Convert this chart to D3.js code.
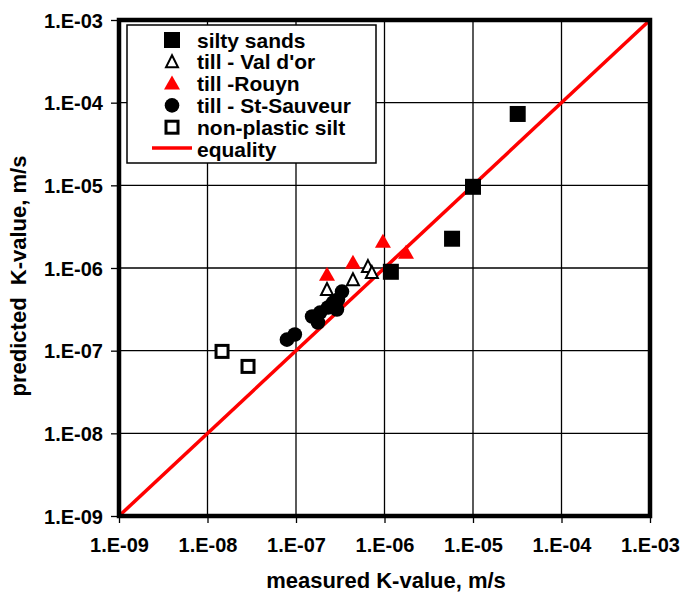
<!DOCTYPE html>
<html>
<head>
<meta charset="utf-8">
<script src="https://cdn.jsdelivr.net/npm/d3@7/dist/d3.min.js"></script>
<style>
  html, body { margin: 0; padding: 0; background: #fff; }
  svg { display: block; }
  text { font-family: "Liberation Sans", Arial, sans-serif; font-weight: bold; fill: #000; }
</style>
</head>
<body>
<svg id="chart" width="683" height="592"></svg>
<script>
// Hydraulic conductivity: measured vs predicted (m/s)
const tickValues = [1e-9, 1e-8, 1e-7, 1e-6, 1e-5, 1e-4, 1e-3];
const tickLabels = ["1.E-09", "1.E-08", "1.E-07", "1.E-06", "1.E-05", "1.E-04", "1.E-03"];

const siltySands = [
  [3.2e-5, 7.3e-5],
  [1.0e-5, 9.6e-6],
  [5.8e-6, 2.26e-6],
  [1.18e-6, 9.0e-7]
];
const tillValDor = [
  [2.24e-7, 5.5e-7],
  [4.4e-7, 7.2e-7],
  [6.5e-7, 1.04e-6],
  [7.2e-7, 8.8e-7]
];
const tillRouyn = [
  [2.24e-7, 8.3e-7],
  [4.4e-7, 1.16e-6],
  [9.6e-7, 2.08e-6],
  [1.75e-6, 1.53e-6]
];
const tillStSauveur = [
  [7.9e-8, 1.36e-7],
  [9.7e-8, 1.57e-7],
  [1.52e-7, 2.59e-7],
  [1.77e-7, 2.19e-7],
  [1.87e-7, 2.89e-7],
  [2.3e-7, 3.33e-7],
  [2.62e-7, 3.82e-7],
  [2.9e-7, 3.15e-7],
  [2.98e-7, 4.15e-7],
  [3.31e-7, 5.19e-7]
];
const nonPlasticSilt = [
  [1.46e-8, 9.8e-8],
  [2.87e-8, 6.45e-8]
];
const equality = [[1e-9, 1e-9], [1e-3, 1e-3]];

const legendItems = [
  { label: "silty sands", kind: "squareFilled" },
  { label: "till - Val d'or", kind: "triangleOpen" },
  { label: "till -Rouyn", kind: "triangleRed" },
  { label: "till - St-Sauveur", kind: "circle" },
  { label: "non-plastic silt", kind: "squareOpen" },
  { label: "equality", kind: "line" }
];

const svg = d3.select("#chart");
const plotL = 119, plotR = 650, plotT = 20, plotB = 516;

const x = d3.scaleLog().domain([1e-9, 1e-3]).range([plotL, plotR]);
const y = d3.scaleLog().domain([1e-9, 1e-3]).range([plotB, plotT]);

// gridlines
const grid = svg.append("g").attr("stroke", "#000").attr("stroke-width", 1.3);
grid.selectAll("line.gx").data(tickValues.slice(1, -1)).join("line").attr("class", "gx")
  .attr("x1", d => x(d)).attr("x2", d => x(d)).attr("y1", plotT).attr("y2", plotB);
grid.selectAll("line.gy").data(tickValues.slice(1, -1)).join("line").attr("class", "gy")
  .attr("y1", d => y(d)).attr("y2", d => y(d)).attr("x1", plotL).attr("x2", plotR);

// axes
const xAxis = d3.axisBottom(x).tickValues(tickValues)
  .tickFormat((d, i) => tickLabels[i]).tickSize(7).tickPadding(15);
const yAxis = d3.axisLeft(y).tickValues(tickValues)
  .tickFormat((d, i) => tickLabels[i]).tickSize(8).tickPadding(8);

const gx = svg.append("g").attr("transform", `translate(0,${plotB})`).call(xAxis);
const gy = svg.append("g").attr("transform", `translate(${plotL},0)`).call(yAxis);
[gx, gy].forEach(g => {
  g.select(".domain").remove();
  g.selectAll(".tick line").attr("stroke", "#000").attr("stroke-width", 1.3);
  g.selectAll(".tick text").style("font-size", "20px")
    .style("font-family", "'Liberation Sans', Arial, sans-serif").style("font-weight", "bold");
});
gy.selectAll(".tick text").attr("dy", "0.36em");

// equality line
svg.append("path")
  .datum(equality)
  .attr("d", d3.line().x(d => x(d[0])).y(d => y(d[1])))
  .attr("stroke", "#ff0000").attr("stroke-width", 3.5).attr("fill", "none");

// frame
svg.append("rect")
  .attr("x", plotL).attr("y", plotT).attr("width", plotR - plotL).attr("height", plotB - plotT)
  .attr("fill", "none").attr("stroke", "#000").attr("stroke-width", 4.5);

// marker drawing helpers
function drawMarker(g, kind, cx, cy) {
  if (kind === "squareFilled") {
    g.append("rect").attr("x", cx - 8).attr("y", cy - 8).attr("width", 16).attr("height", 16)
      .attr("fill", "#000");
  } else if (kind === "squareOpen") {
    g.append("rect").attr("x", cx - 6).attr("y", cy - 6).attr("width", 12).attr("height", 12)
      .attr("fill", "#fff").attr("stroke", "#000").attr("stroke-width", 3);
  } else if (kind === "triangleOpen") {
    g.append("path").attr("d", `M${cx},${cy - 6.5}L${cx + 6},${cy + 5.5}L${cx - 6},${cy + 5.5}Z`)
      .attr("fill", "#fff").attr("stroke", "#000").attr("stroke-width", 2);
  } else if (kind === "triangleRed") {
    g.append("path").attr("d", `M${cx},${cy - 8}L${cx + 8},${cy + 6}L${cx - 8},${cy + 6}Z`)
      .attr("fill", "#ff0000");
  } else if (kind === "circle") {
    g.append("circle").attr("cx", cx).attr("cy", cy).attr("r", 7.3).attr("fill", "#000");
  }
}

const marks = svg.append("g");
const seriesList = [
  [tillStSauveur, "circle"],
  [nonPlasticSilt, "squareOpen"],
  [tillRouyn, "triangleRed"],
  [tillValDor, "triangleOpen"],
  [siltySands, "squareFilled"]
];
seriesList.forEach(([data, kind]) => {
  data.forEach(d => drawMarker(marks, kind, x(d[0]), y(d[1])));
});

// legend
const lg = svg.append("g");
lg.append("rect").attr("x", 127).attr("y", 25).attr("width", 249).attr("height", 138)
  .attr("fill", "#fff").attr("stroke", "#000").attr("stroke-width", 1.5);
legendItems.forEach((item, i) => {
  const cy = 40 + i * 21.8;
  if (item.kind === "line") {
    lg.append("line").attr("x1", 152).attr("x2", 192).attr("y1", cy - 1).attr("y2", cy - 1)
      .attr("stroke", "#ff0000").attr("stroke-width", 3.5);
  } else {
    drawMarker(lg, item.kind, 172, cy);
  }
  lg.append("text").attr("x", 197).attr("y", cy).attr("dy", "0.36em")
    .style("font-size", "21px").text(item.label);
});

// axis titles
svg.append("text").attr("x", 386).attr("y", 588).attr("text-anchor", "middle")
  .style("font-size", "22px").text("measured K-value, m/s");
svg.append("text").attr("transform", "translate(26,276) rotate(-90)").attr("text-anchor", "middle")
  .style("font-size", "22px").attr("xml:space", "preserve").text("predicted  K-value, m/s");
</script>
</body>
</html>
